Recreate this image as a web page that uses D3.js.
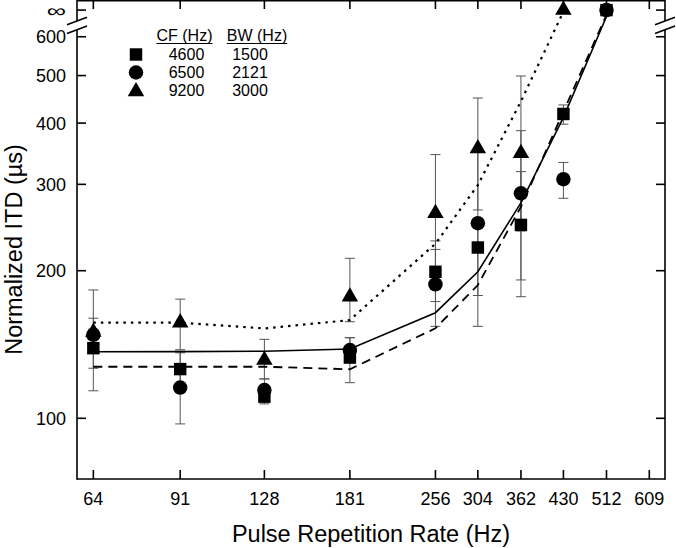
<!DOCTYPE html>
<html>
<head>
<meta charset="utf-8">
<script src="https://cdnjs.cloudflare.com/ajax/libs/d3/7.8.5/d3.min.js"></script>
<style>
  body { margin: 0; background: #fff; }
  svg { display: block; font-family: "Liberation Sans", Arial, sans-serif; }
</style>
</head>
<body>
<div id="chart"></div>
<script>
// pulse rates of the measurements
const rates = [64, 91, 128, 181, 256, 304, 362, 430, 512];
const xTicks = [64, 91, 128, 181, 256, 304, 362, 430, 512, 609];
const yTicks = [100, 200, 300, 400, 500, 600];
const INF = 680;            // value at which "∞" is drawn
const breakVals = [646, 620]; // axis break

// CF 4600 (squares)
const sqMean = [139, 126, 110.7, 133, 199, 223, 248, 417.5, Infinity];
const sqLo   = [126.5, 116, 107, 118.2, 173, 154, 177, 398, null];
const sqHi   = [152, 136, 114, 146, 221, 252, 318.5, 435.6, null];

// CF 6500 (circles)
const ciMean = [148, 115.5, 114.2, 137.8, 187.6, 250, 287.6, 307.3, Infinity];
const ciLo   = [113.8, 97.4, 108, 130, 154, 178, 191.5, 281, null];
const ciHi   = [182.7, 137, 120.3, 146, 230, 350, 386, 332.5, null];

// CF 9200 (triangles)
const trMean = [150, 156.7, 131.5, 177, 262, 355, 347, Infinity, null];
const trLo   = [140, 138, 120.3, 157.4, 199, 266, 241, null, null];
const trHi   = [160, 175, 144.9, 212, 345, 450, 499, null, null];

// model predictions
const solidVals  = [136.7, 136.8, 137, 138.5, 164.2, 199, 275, 411, 660];
const dashedVals = [127.4, 127.4, 127.4, 125.9, 152.6, 187, 270, 422, 665];
const dottedVals = [156.7, 156.7, 152.5, 158.6, 227, 299, 443, 675];

// legend
const legendCF = [4600, 6500, 9200];
const legendBW = [1500, 2121, 3000];

const W = 676, H = 548;
const pLeft = 77, pRight = 665, pTop = 0, pBottom = 479;

const svg = d3.select("#chart").append("svg")
    .attr("width", W)
    .attr("height", H);

const x = d3.scaleLog().base(2)
    .domain([59.9, 649])
    .range([pLeft, pRight]);
const yLog = d3.scaleLog()
    .domain([75.2, 713])
    .range([pBottom, pTop]);
const y = v => yLog(isFinite(v) ? v : INF);

const shapes = [
  {mean: sqMean, lo: sqLo, hi: sqHi, sym: d3.symbolSquare, size: 155},
  {mean: ciMean, lo: ciLo, hi: ciHi, sym: d3.symbolCircle, size: 165},
  {mean: trMean, lo: trLo, hi: trHi, sym: d3.symbolTriangle, size: 118}
];

// error bars
shapes.forEach(s => {
  const g = svg.append("g").attr("stroke", "#555").attr("stroke-width", 1);
  rates.forEach((r, i) => {
    if (s.lo[i] == null) return;
    const cx = x(r);
    g.append("line").attr("x1", cx).attr("x2", cx)
      .attr("y1", y(s.lo[i])).attr("y2", y(s.hi[i]));
    [s.lo[i], s.hi[i]].forEach(v => {
      g.append("line").attr("x1", cx - 5).attr("x2", cx + 5)
        .attr("y1", y(v)).attr("y2", y(v));
    });
  });
});

// model lines
const line = d3.line().x(d => x(d[0])).y(d => y(d[1]));
[
  {vals: solidVals, dash: null, w: 1.6},
  {vals: dashedVals, dash: "9,6", w: 1.8},
  {vals: dottedVals, dash: "2.5,5", w: 2.2}
].forEach(l => {
  svg.append("path")
    .datum(l.vals.map((v, i) => [rates[i], v]))
    .attr("d", line)
    .attr("fill", "none")
    .attr("stroke", "#000")
    .attr("stroke-width", l.w)
    .attr("stroke-dasharray", l.dash);
});

// markers
shapes.forEach(s => {
  rates.forEach((r, i) => {
    if (s.mean[i] == null) return;
    svg.append("path")
      .attr("d", d3.symbol(s.sym, s.size)())
      .attr("transform", `translate(${x(r)},${y(s.mean[i])})`)
      .attr("fill", "#000");
  });
});

// frame with axis breaks
const yb1 = yLog(breakVals[0]), yb2 = yLog(breakVals[1]);
const frame = svg.append("g").attr("stroke", "#000").attr("stroke-width", 1.6).attr("fill", "none");
frame.append("line").attr("x1", pLeft).attr("x2", pRight).attr("y1", pTop + 0.8).attr("y2", pTop + 0.8);
frame.append("line").attr("x1", pLeft).attr("x2", pRight).attr("y1", pBottom).attr("y2", pBottom);
[pLeft, pRight].forEach(ax => {
  frame.append("line").attr("x1", ax).attr("x2", ax).attr("y1", pTop).attr("y2", yb1);
  frame.append("line").attr("x1", ax).attr("x2", ax).attr("y1", yb2).attr("y2", pBottom + 0.8);
  [yb1, yb2].forEach(yb => {
    frame.append("line").attr("x1", ax - 10).attr("x2", ax + 10)
      .attr("y1", yb + 3.8).attr("y2", yb - 3.8);
  });
});

// ticks
const tickLen = 9;
xTicks.forEach(t => {
  frame.append("line").attr("x1", x(t)).attr("x2", x(t)).attr("y1", pBottom).attr("y2", pBottom - tickLen);
  frame.append("line").attr("x1", x(t)).attr("x2", x(t)).attr("y1", pTop).attr("y2", pTop + tickLen);
});
yTicks.concat([Infinity]).forEach(t => {
  frame.append("line").attr("x1", pLeft).attr("x2", pLeft + tickLen).attr("y1", y(t)).attr("y2", y(t));
  frame.append("line").attr("x1", pRight).attr("x2", pRight - tickLen).attr("y1", y(t)).attr("y2", y(t));
});

// tick labels
svg.append("g").selectAll("text").data(xTicks).join("text")
  .attr("x", d => x(d)).attr("y", 505)
  .attr("text-anchor", "middle")
  .attr("font-size", 18)
  .text(d => d);
svg.append("g").selectAll("text").data(yTicks).join("text")
  .attr("x", 66).attr("y", d => y(d)).attr("dy", "0.36em")
  .attr("text-anchor", "end")
  .attr("font-size", 18)
  .text(d => d);
svg.append("text")
  .attr("x", 66).attr("y", y(Infinity) + 6.6)
  .attr("text-anchor", "end")
  .attr("font-size", 18)
  .attr("transform", `translate(66,0) scale(1.5,1) translate(-66,0)`)
  .text("∞");

// axis titles
svg.append("text")
  .attr("x", (pLeft + pRight) / 2).attr("y", 541.5)
  .attr("text-anchor", "middle")
  .attr("font-size", 23.5)
  .text("Pulse Repetition Rate (Hz)");
svg.append("text")
  .attr("transform", "translate(22,249.5) rotate(-90)")
  .attr("text-anchor", "middle")
  .attr("font-size", 23.5)
  .text("Normalized ITD (µs)");

// legend
const lg = svg.append("g").attr("font-size", 16);
[["CF (Hz)", 184.5], ["BW (Hz)", 257]].forEach(([t, cx]) => {
  const txt = lg.append("text").attr("x", cx).attr("y", 40.5)
    .attr("text-anchor", "middle").text(t);
  const w = txt.node().getComputedTextLength();
  lg.append("line").attr("x1", cx - w / 2).attr("x2", cx + w / 2)
    .attr("y1", 43.5).attr("y2", 43.5).attr("stroke", "#000").attr("stroke-width", 1);
});
const rowY = [54.5, 72.5, 90.5];
legendCF.forEach((cf, i) => {
  lg.append("path")
    .attr("d", d3.symbol(shapes[i].sym, shapes[i].size)())
    .attr("transform", `translate(136,${rowY[i] + (i === 2 ? 1 : 0)})`)
    .attr("fill", "#000");
  lg.append("text").attr("x", 186.5).attr("y", rowY[i]).attr("dy", "0.36em")
    .attr("text-anchor", "middle").text(cf);
  lg.append("text").attr("x", 250).attr("y", rowY[i]).attr("dy", "0.36em")
    .attr("text-anchor", "middle").text(legendBW[i]);
});
</script>
</body>
</html>
